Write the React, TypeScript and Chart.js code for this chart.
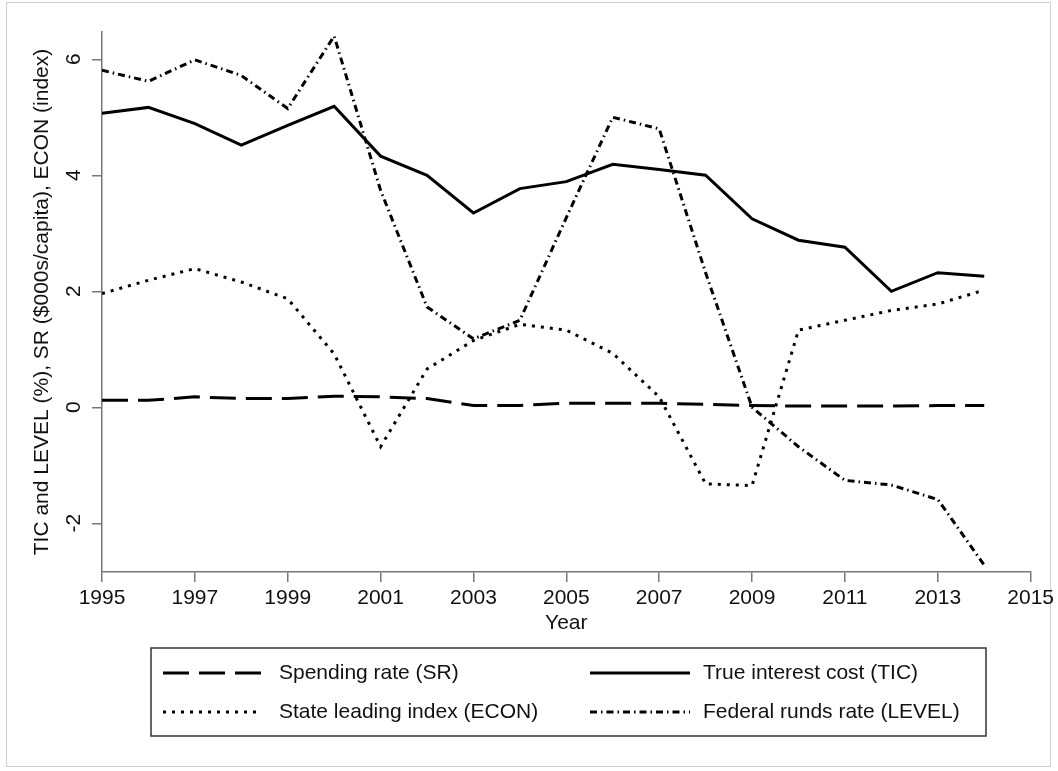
import React, { useEffect, useRef } from 'react';
import { Chart, registerables } from 'chart.js';

Chart.register(...registerables);

// ---- data ----
const years = [1995, 1996, 1997, 1998, 1999, 2000, 2001, 2002, 2003, 2004, 2005, 2006, 2007, 2008, 2009, 2010, 2011, 2012, 2013, 2014];
const srValues = [0.12, 0.12, 0.18, 0.15, 0.15, 0.19, 0.18, 0.15, 0.03, 0.03, 0.07, 0.07, 0.07, 0.05, 0.03, 0.02, 0.02, 0.02, 0.03, 0.03];
const ticValues = [5.07, 5.17, 4.89, 4.52, 4.86, 5.19, 4.33, 4.0, 3.35, 3.77, 3.89, 4.19, 4.1, 4.0, 3.25, 2.88, 2.76, 2.0, 2.32, 2.26];
const econValues = [1.96, 2.19, 2.39, 2.16, 1.87, 0.92, -0.68, 0.66, 1.15, 1.43, 1.33, 0.93, 0.18, -1.32, -1.35, 1.33, 1.5, 1.67, 1.78, 2.02];
const levelValues = [5.81, 5.62, 5.99, 5.72, 5.15, 6.4, 3.74, 1.73, 1.18, 1.5, 3.27, 5.0, 4.8, 2.32, 0.0, -0.68, -1.26, -1.34, -1.59, -2.72];

const seriesLabels = [
  'Spending rate (SR)',
  'True interest cost (TIC)',
  'State leading index (ECON)',
  'Federal runds rate (LEVEL)',
];
const xTickValues = [1995, 1997, 1999, 2001, 2003, 2005, 2007, 2009, 2011, 2013, 2015];
const yTickValues = [-2, 0, 2, 4, 6];
const xTitle = 'Year';
const yTitle = 'TIC and LEVEL (%), SR ($000s/capita), ECON (index)';

const FONT = "'Liberation Sans', Arial, Helvetica, sans-serif";
const FONT_SIZE = 21;
const AXIS_COLOR = '#777777';

// Legend drawn in a framed box with two aligned columns
const boxLegend = {
  id: 'boxLegend',
  afterDraw(chart: any) {
    const o = chart.options.plugins.boxLegend;
    const ctx = chart.ctx;
    ctx.save();
    ctx.strokeStyle = '#333333';
    ctx.lineWidth = 1.5;
    ctx.setLineDash([]);
    ctx.strokeRect(o.left, o.top, o.right - o.left, o.bottom - o.top);
    chart.data.datasets.forEach((ds: any, i: number) => {
      const col = o.cols[i % 2];
      const y = o.rows[Math.floor(i / 2)];
      ctx.beginPath();
      ctx.setLineDash(ds.borderDash || []);
      ctx.lineWidth = ds.borderWidth;
      ctx.strokeStyle = ds.borderColor;
      ctx.lineCap = ds.borderCapStyle || 'butt';
      ctx.moveTo(col.x0, y);
      ctx.lineTo(col.x1, y);
      ctx.stroke();
      ctx.setLineDash([]);
      ctx.fillStyle = '#111111';
      ctx.font = `${FONT_SIZE}px ${FONT}`;
      ctx.textAlign = 'left';
      ctx.textBaseline = 'middle';
      ctx.fillText(ds.label, col.text, y);
    });
    ctx.restore();
  },
};

export default function App() {
  const canvasRef = useRef<HTMLCanvasElement | null>(null);

  useEffect(() => {
    if (!canvasRef.current) return;
    const toPoints = (vals: number[]) => years.map((x, i) => ({ x, y: vals[i] }));
    const common = { pointRadius: 0, tension: 0, fill: false, borderColor: '#000000', borderWidth: 3 };
    const chart = new Chart(canvasRef.current, {
      type: 'line',
      data: {
        datasets: [
          { ...common, label: seriesLabels[0], data: toPoints(srValues), borderDash: [26, 10] },
          { ...common, label: seriesLabels[1], data: toPoints(ticValues), borderDash: [] },
          { ...common, label: seriesLabels[2], data: toPoints(econValues), borderDash: [3, 6] },
          { ...common, label: seriesLabels[3], data: toPoints(levelValues), borderDash: [7, 4, 1.5, 4] },
        ],
      },
      options: {
        responsive: false,
        animation: false,
        devicePixelRatio: 1,
        layout: { padding: { left: 0, right: 25, top: 32, bottom: 135 } },
        plugins: {
          legend: { display: false },
          tooltip: { enabled: false },
          boxLegend: {
            left: 151,
            top: 648,
            right: 986,
            bottom: 736,
            rows: [673, 712],
            cols: [
              { x0: 163, x1: 262, text: 279 },
              { x0: 590, x1: 690, text: 703 },
            ],
          },
        } as any,
        scales: {
          x: {
            type: 'linear',
            min: 1995,
            max: 2015,
            afterBuildTicks: (s: any) => {
              s.ticks = xTickValues.map((v) => ({ value: v }));
            },
            afterFit: (s: any) => {
              s.height = 64;
            },
            ticks: {
              autoSkip: false,
              minRotation: 0,
              maxRotation: 0,
              padding: 4,
              color: '#111111',
              font: { family: FONT, size: FONT_SIZE },
              callback: (v: any) => String(v),
            },
            grid: {
              display: true,
              drawOnChartArea: false,
              drawTicks: true,
              tickLength: 10,
              color: AXIS_COLOR,
              lineWidth: 1.5,
            },
            border: { display: true, color: AXIS_COLOR, width: 1.5 },
            title: {
              display: true,
              text: xTitle,
              color: '#111111',
              font: { family: FONT, size: FONT_SIZE },
              padding: { top: 0, bottom: 0 },
            },
          },
          y: {
            type: 'linear',
            min: -2.84,
            max: 6.47,
            afterBuildTicks: (s: any) => {
              s.ticks = yTickValues.map((v) => ({ value: v }));
            },
            afterFit: (s: any) => {
              s.width = 102;
            },
            ticks: {
              minRotation: 90,
              maxRotation: 90,
              crossAlign: 'center',
              padding: 8,
              color: '#111111',
              font: { family: FONT, size: FONT_SIZE },
              callback: (v: any) => String(v),
            },
            grid: {
              display: true,
              drawOnChartArea: false,
              drawTicks: true,
              tickLength: 10,
              color: AXIS_COLOR,
              lineWidth: 1.5,
            },
            border: { display: true, color: AXIS_COLOR, width: 1.5 },
            title: {
              display: true,
              text: yTitle,
              color: '#111111',
              font: { family: FONT, size: FONT_SIZE },
              padding: { top: 30, bottom: 0 },
            },
          },
        },
      },
      plugins: [boxLegend],
    } as any);
    return () => chart.destroy();
  }, []);

  return (
    <div style={{ position: 'fixed', left: 0, top: 0, width: 1058, height: 771, background: '#ffffff' }}>
      <div
        style={{
          position: 'absolute',
          left: 6,
          top: 2,
          width: 1043,
          height: 763,
          border: '1px solid #cfcfcf',
          pointerEvents: 'none',
        }}
      />
      <canvas
        ref={canvasRef}
        width={1058}
        height={771}
        style={{ position: 'absolute', left: 0, top: 0, width: 1058, height: 771, display: 'block' }}
      />
    </div>
  );
}
